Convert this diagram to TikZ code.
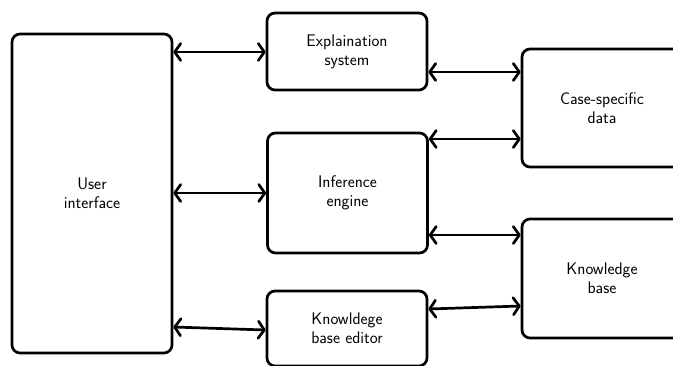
\documentclass[tikz,border=0pt]{standalone}
\usetikzlibrary{arrows.meta}
\begin{document}
\begin{tikzpicture}[x=1pt,y=-1pt,
  blk/.style={draw, line width=2.7pt, rounded corners=8pt, minimum width=160pt,
    align=center, font=\sffamily\fontsize{16.8}{19}\selectfont, inner sep=0pt},
  arr/.style={line width=2.7pt, line cap=round,
    {Straight Barb[length=6pt,width=17pt,line cap=round,line join=round]}-{Straight Barb[length=6pt,width=17pt,line cap=round,line join=round]}}]
\clip (0,0) rectangle (673,365);
\useasboundingbox (0,0) rectangle (673,365);
% system components
\node[blk, minimum height=319pt] (ui) at (92,193.5) {User\\interface};
\node[blk, minimum height=77pt] (expl) at (347,51.5) {Explaination\\system};
\node[blk, minimum height=120pt] (inf) at (347.5,193) {Inference\\engine};
\node[blk, minimum height=75pt] (kbe) at (347,328.5) {Knowldege\\base editor};
\node[blk, minimum height=118pt] (case) at (602,108) {Case-specific\\data};
\node[blk, minimum height=119pt] (kb) at (602,278.5) {Knowledge\\base};
% two-way links
\draw[arr] (ui.east |- 0,52) -- (expl.west |- 0,52);
\draw[arr] (ui.east |- 0,193) -- (inf.west |- 0,193);
\draw[arr] (ui.east |- 0,327) -- (kbe.west |- 0,330);
\draw[arr] (expl.east |- 0,72) -- (case.west |- 0,72);
\draw[arr] (inf.east |- 0,139) -- (case.west |- 0,139);
\draw[arr] (inf.east |- 0,235) -- (kb.west |- 0,235);
\draw[arr] (kbe.east |- 0,309) -- (kb.west |- 0,306);
\end{tikzpicture}
\end{document}
